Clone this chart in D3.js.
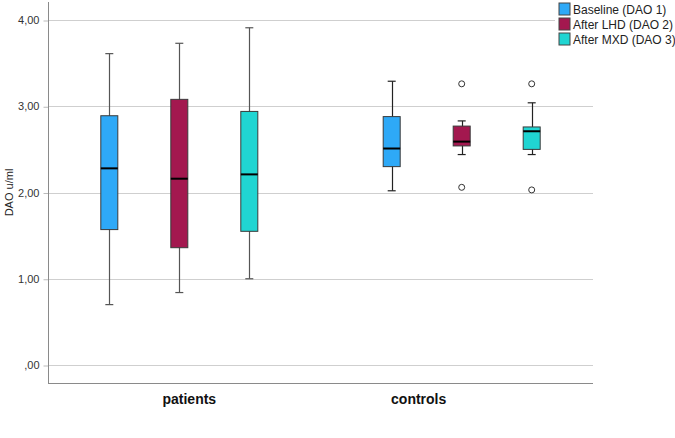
<!DOCTYPE html>
<html>
<head>
<meta charset="utf-8">
<script src="https://cdn.jsdelivr.net/npm/d3@7"></script>
<style>
  body { margin: 0; background: #fff; }
  text { font-family: "Liberation Sans", Arial, sans-serif; }
</style>
</head>
<body>
<div id="chart"></div>
<script>
// groups on the x axis and the three measurements
const groups = ["patients", "controls"];
const series = ["Baseline (DAO 1)", "After LHD (DAO 2)", "After MXD (DAO 3)"];
const colors = ["#2ea9f7", "#a3184f", "#20d5d2"];

// box stats per group, in series order: [low whisker, Q1, median, Q3, high whisker]
const patientsStats = [
  [0.70, 1.57, 2.28, 2.89, 3.61],
  [0.84, 1.36, 2.16, 3.08, 3.73],
  [1.00, 1.55, 2.21, 2.94, 3.91]
];
const controlsStats = [
  [2.02, 2.30, 2.51, 2.88, 3.29],
  [2.44, 2.54, 2.59, 2.77, 2.83],
  [2.44, 2.50, 2.71, 2.76, 3.04]
];
// outliers (circles)
const patientsOutliers = [[], [], []];
const controlsOutliers = [[], [2.06, 3.26], [2.03, 3.26]];

const yTicks = [0, 1, 2, 3, 4];

var
    width = 675,
    height = 438,
    plot = {left: 48, right: 593, top: 2, bottom: 383};

var svg = d3.select("#chart").append("svg")
    .attr("width", width)
    .attr("height", height);

var y = d3.scaleLinear()
    .domain([0, 4])
    .range([365, 20]);

var x = d3.scalePoint()
    .domain(groups)
    .range([plot.left, plot.right])
    .padding(0.465);

var inner = d3.scaleBand()
    .domain(series)
    .range([-105, 105]);

const boxW = 17;

// gridlines
svg.append("g").selectAll("line")
    .data(yTicks)
    .join("line")
        .attr("x1", plot.left)
        .attr("x2", d => d === 4 ? 555 : plot.right)
        .attr("y1", d => Math.round(y(d)) + 0.5)
        .attr("y2", d => Math.round(y(d)) + 0.5)
        .style("stroke", "#cfcfcf")
        .style("stroke-width", 1);

// y axis
var yAxis = svg.append("g")
    .attr("transform", "translate(" + (plot.left + 0.5) + ",0)")
    .call(d3.axisLeft(y)
        .tickValues(yTicks)
        .tickSize(5)
        .tickFormat(d => d === 0 ? ",00" : d3.format(".2f")(d).replace(".", ",")));
yAxis.select(".domain").remove();
yAxis.selectAll(".tick line").style("stroke", "#bbb").attr("transform", "translate(0,0.5)");
yAxis.selectAll("text")
    .style("font-size", "11px")
    .style("fill", "#333")
    .attr("x", -9);

// axis lines
svg.append("line")
    .attr("x1", plot.left + 0.5).attr("x2", plot.left + 0.5)
    .attr("y1", plot.top).attr("y2", plot.bottom)
    .style("stroke", "#8a8a8a");
svg.append("line")
    .attr("x1", plot.left).attr("x2", plot.right)
    .attr("y1", plot.bottom + 0.5).attr("y2", plot.bottom + 0.5)
    .style("stroke", "#8a8a8a");

// y title
svg.append("text")
    .attr("transform", "translate(13," + y(2) + ") rotate(-90)")
    .attr("text-anchor", "middle")
    .style("font-size", "11px")
    .style("fill", "#222")
    .text("DAO u/ml");

// category labels
svg.append("g").selectAll("text")
    .data(groups)
    .join("text")
        .attr("x", d => x(d) + (d === "patients" ? 10 : -43))
        .attr("y", 404)
        .attr("text-anchor", "middle")
        .style("font-size", "14px")
        .style("font-weight", "bold")
        .style("fill", "#111")
        .text(d => d);

// boxes
const allStats = {patients: patientsStats, controls: controlsStats};
const allOut = {patients: patientsOutliers, controls: controlsOutliers};
const boxes = [];
groups.forEach(g => series.forEach((s, i) => {
    boxes.push({g: g, s: s, i: i, st: allStats[g][i], out: allOut[g][i]});
}));

var cx = d => x(d.g) + inner(d.s) + inner.bandwidth() / 2;

var bx = svg.append("g").selectAll("g")
    .data(boxes)
    .join("g");

const whiskColor = d => d.g === "patients" ? "#555" : "#222";

// whiskers
bx.append("line")
    .attr("x1", d => Math.round(cx(d)) + 0.5).attr("x2", d => Math.round(cx(d)) + 0.5)
    .attr("y1", d => y(d.st[0])).attr("y2", d => y(d.st[4]))
    .style("stroke", whiskColor).style("stroke-width", 1.2);
[0, 4].forEach(k => {
    bx.append("line")
        .attr("x1", d => cx(d) - 4).attr("x2", d => cx(d) + 4)
        .attr("y1", d => y(d.st[k])).attr("y2", d => y(d.st[k]))
        .style("stroke", whiskColor).style("stroke-width", 1.2);
});

// box
bx.append("rect")
    .attr("x", d => cx(d) - boxW / 2)
    .attr("y", d => y(d.st[3]))
    .attr("width", boxW)
    .attr("height", d => y(d.st[1]) - y(d.st[3]))
    .style("fill", d => colors[d.i])
    .style("stroke", "#3a3a3a")
    .style("stroke-width", 1);

// median
bx.append("line")
    .attr("x1", d => cx(d) - boxW / 2).attr("x2", d => cx(d) + boxW / 2)
    .attr("y1", d => y(d.st[2])).attr("y2", d => y(d.st[2]))
    .style("stroke", "#000").style("stroke-width", 2);

// outliers
bx.selectAll("circle")
    .data(d => d.out.map(v => ({v: v, d: d})))
    .join("circle")
        .attr("cx", o => cx(o.d))
        .attr("cy", o => y(o.v))
        .attr("r", 3)
        .style("fill", "none")
        .style("stroke", "#333")
        .style("stroke-width", 1);

// legend
var leg = svg.append("g").selectAll("g")
    .data(series)
    .join("g")
        .attr("transform", (d, i) => "translate(559," + (3 + i * 15) + ")");
leg.append("rect")
    .attr("width", 11).attr("height", 12)
    .style("fill", (d, i) => colors[i])
    .style("stroke", "#444");
leg.append("text")
    .attr("x", 14).attr("y", 10.5)
    .style("font-size", "12px")
    .style("fill", "#222")
    .text(d => d);
</script>
</body>
</html>
